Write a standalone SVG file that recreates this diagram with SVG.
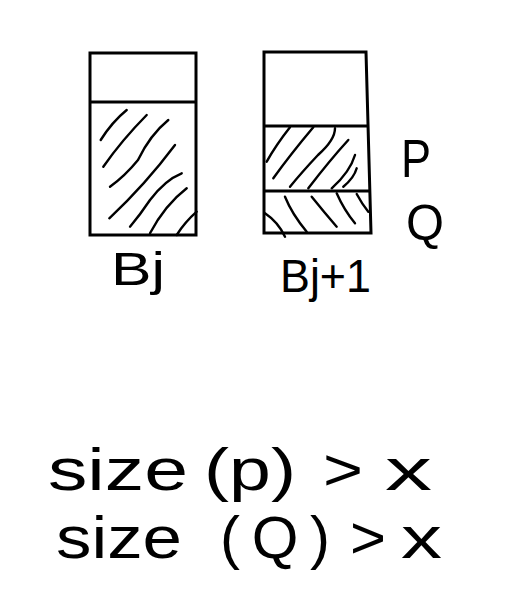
<svg xmlns="http://www.w3.org/2000/svg" width="515" height="605" viewBox="0 0 515 605">
<style>
.box{fill:none;stroke:#000;stroke-width:3;stroke-linejoin:miter}
.h{fill:none;stroke:#000;stroke-width:2.4;stroke-linecap:round}
.t{font-family:"Liberation Sans","DejaVu Sans",sans-serif;fill:#000}
</style>
<rect width="515" height="605" fill="#fff"/>
<g id="Bj">
<rect class="box" x="90" y="53" width="106" height="182"/>
<line class="box" x1="90" y1="102" x2="196" y2="102"/>
<g class="h">
<path d="M126.7,110 Q112,122 100.7,140"/>
<path d="M146.7,115 Q122,140 103.3,166.7"/>
<path d="M168.3,120 Q150,135 138,160 Q125,176 110,186.7"/>
<path d="M175,145 Q145,185 109.3,218.3"/>
<path d="M181.7,173.3 Q165,180 150,200 Q140,215 130,226.7"/>
<path d="M186.7,188.3 Q165,205 150,233.3"/>
<path d="M196.7,211.7 Q185,222 176.7,235"/>
</g>
<text class="t" x="111" y="285" font-size="46" textLength="54" lengthAdjust="spacingAndGlyphs">Bj</text>
</g>
<g id="Bj1">
<path class="box" d="M264,52 L366,52 L371,233 L264,233 Z"/>
<line class="box" x1="264" y1="126" x2="368" y2="126"/>
<line class="box" x1="264" y1="191" x2="370" y2="191"/>
<g class="h">
<path d="M290,127.3 Q276,145 266.7,161.7"/>
<path d="M313.3,127.3 Q290,155 273.3,178.3"/>
<path d="M335,128.3 Q335,140 318,155 Q302,172 290,186.7"/>
<path d="M348.3,140 Q330,160 308.3,188.3"/>
<path d="M355,155 Q350,172 331.7,188.3"/>
<path d="M356.7,168.3 Q354,178 343.3,186.7"/>
<path d="M265,213.3 Q278,222 285,236.7"/>
<path d="M285,196.7 Q292,214 306.7,231.7"/>
<path d="M311.7,196.7 Q324,212 336.7,226.7"/>
<path d="M336.7,193.3 Q344,210 355,223.3"/>
<path d="M356.7,194 Q362,204 368.3,211.7"/>
</g>
<text class="t" x="280" y="292" font-size="46" textLength="91" lengthAdjust="spacingAndGlyphs">Bj+1</text>
</g>
<g id="labels">
<text class="t" x="401" y="177" font-size="54" textLength="30" lengthAdjust="spacingAndGlyphs">P</text>
<text class="t" x="406" y="240" font-size="50" textLength="38" lengthAdjust="spacingAndGlyphs">Q</text>
</g>
<g id="formula" class="t" font-size="60">
<text x="48" y="490" textLength="140" lengthAdjust="spacingAndGlyphs">size</text>
<text x="204" y="490" textLength="92" lengthAdjust="spacingAndGlyphs">(p)</text>
<text x="323" y="490" textLength="40" lengthAdjust="spacingAndGlyphs">&gt;</text>
<text x="385" y="490" textLength="47" lengthAdjust="spacingAndGlyphs">x</text>
<text x="56" y="558" textLength="126" lengthAdjust="spacingAndGlyphs">size</text>
<text x="220" y="558" textLength="110" lengthAdjust="spacing">( Q )</text>
<text x="350" y="558" textLength="36" lengthAdjust="spacingAndGlyphs">&gt;</text>
<text x="401" y="558" textLength="41" lengthAdjust="spacingAndGlyphs">x</text>
</g>
</svg>
